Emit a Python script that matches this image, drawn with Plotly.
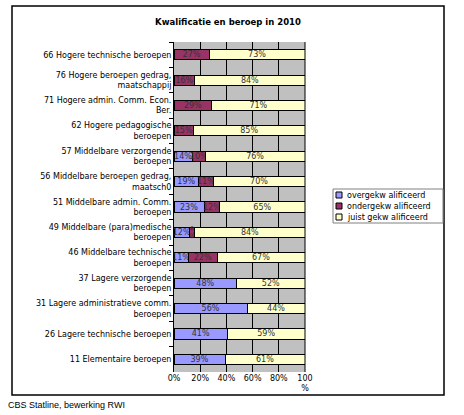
import plotly.graph_objects as go

categories = [
    "66 Hogere technische beroepen",
    "76 Hogere beroepen gedrag,<br>maatschappij",
    "71 Hogere admin. Comm. Econ.<br>Ber.",
    "62 Hogere pedagogische<br>beroepen",
    "57 Middelbare verzorgende<br>beroepen",
    "56 Middelbare beroepen gedrag,<br>maatsch0",
    "51 Middelbare admin. Comm.<br>beroepen",
    "49 Middelbare (para)medische<br>beroepen",
    "46 Middelbare technische<br>beroepen",
    "37 Lagere verzorgende<br>beroepen",
    "31 Lagere administratieve comm.<br>beroepen",
    "26 Lagere technische beroepen",
    "11 Elementaire beroepen",
]
overgekw = [None, None, None, None, 14, 19, 23, 12, 11, 48, 56, 41, 39]
ondergekw = [27, 16, 29, 15, 10, 11, 12, 4, 22, None, None, None, None]
juist = [73, 84, 71, 85, 76, 70, 65, 84, 67, 52, 44, 59, 61]
series_names = ["overgekw alificeerd", "ondergekw alificeerd", "juist gekw alificeerd"]
series_colors = ["#9999FF", "#993366", "#FFFFCC"]
x_tickvals = [0, 20, 40, 60, 80, 100]
x_ticktext = ["0%", "20%", "40%", "60%", "80%", "100<br>%"]

FONT = "DejaVu Sans, Verdana, sans-serif"
FONT2 = "Liberation Sans, Arial, sans-serif"
W, H = 464, 415
L, R, T, B = 174, 305, 42, 372  # plot area in pixels


def px_x(p):
    return (p - L) / (R - L)


def px_y(p):
    return (B - p) / (B - T)


fig = go.Figure()
for name, vals, col in zip(series_names, [overgekw, ondergekw, juist], series_colors):
    fig.add_trace(go.Bar(
        y=categories, x=vals, name=name, orientation="h",
        marker=dict(color=col, line=dict(color="black", width=1)),
        texttemplate="%{x}%", textposition="inside", insidetextanchor="middle",
        textfont=dict(size=8, color="#333333", family=FONT),
        constraintext="none", showlegend=False,
    ))

shapes = [
    dict(type="rect", xref="paper", yref="paper",
         x0=px_x(12), x1=px_x(444), y0=px_y(395), y1=px_y(6),
         line=dict(color="black", width=1.5), fillcolor="rgba(0,0,0,0)", layer="below"),
    dict(type="line", xref="paper", yref="paper", x0=1, x1=1, y0=0, y1=1,
         line=dict(color="black", width=1)),
    # legend box
    dict(type="rect", xref="paper", yref="paper",
         x0=px_x(333), x1=px_x(443), y0=px_y(223), y1=px_y(189),
         line=dict(color="#808080", width=1), fillcolor="white"),
]
annotations = [
    dict(text="CBS Statline, bewerking RWI", xref="paper", yref="paper",
         x=px_x(6), y=px_y(405), xanchor="left", yanchor="middle",
         showarrow=False, font=dict(size=9, family=FONT2, color="black")),
]
row_y = [195, 206, 217]
for name, col, ry in zip(series_names, series_colors, row_y):
    shapes.append(dict(type="rect", xref="paper", yref="paper",
                       x0=px_x(336), x1=px_x(342), y0=px_y(ry + 3), y1=px_y(ry - 3),
                       line=dict(color="black", width=1), fillcolor=col))
    annotations.append(dict(text=name, xref="paper", yref="paper",
                            x=px_x(345), y=px_y(ry), xanchor="left", yanchor="middle",
                            showarrow=False, font=dict(size=8, family=FONT, color="black")))

fig.update_layout(
    width=W, height=H,
    margin=dict(l=L, r=W - R, t=T, b=H - B, pad=0),
    barmode="stack", bargap=0.6,
    paper_bgcolor="white", plot_bgcolor="#C0C0C0",
    font=dict(family=FONT, size=8, color="black"),
    title=dict(text="<b>Kwalificatie en beroep in 2010</b>", x=228 / W, y=1 - 22 / H,
               xanchor="center", yanchor="middle", xref="container", yref="container",
               font=dict(size=8.5, family=FONT, color="black")),
    showlegend=False,
    xaxis=dict(range=[0, 100], tickvals=x_tickvals, ticktext=x_ticktext,
               showgrid=True, gridcolor="black", gridwidth=1, zeroline=False,
               showline=False, ticks="", tickfont=dict(size=8), fixedrange=True,
               automargin=False),
    yaxis=dict(categoryorder="array", categoryarray=categories, autorange="reversed",
               showline=True, linecolor="black", linewidth=1, ticks="outside",
               tickson="boundaries", ticklen=4, tickcolor="black",
               tickfont=dict(size=8), showgrid=False, automargin=False),
    shapes=shapes,
    annotations=annotations,
)

fig.write_html("out.html", config={"displayModeBar": False},
               post_script="document.body.style.margin='0';")
